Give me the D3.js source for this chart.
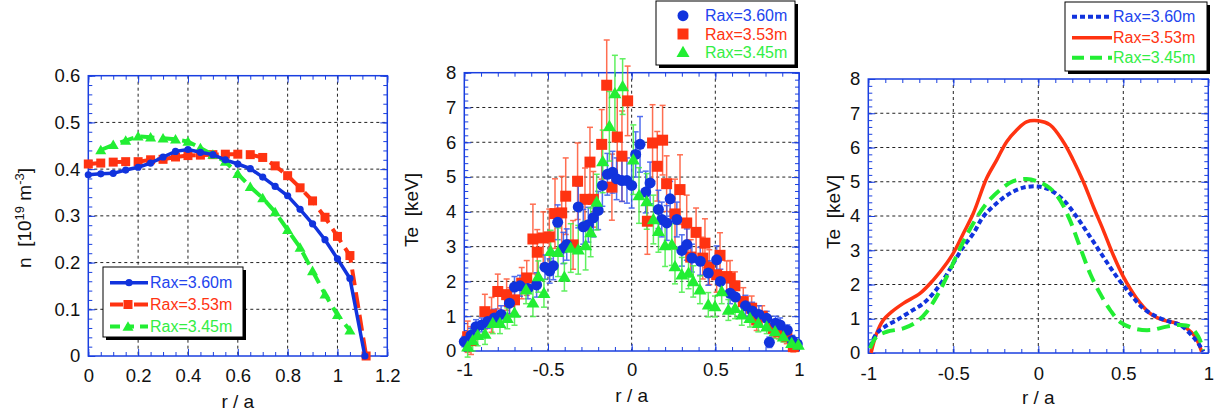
<!DOCTYPE html>
<html><head><meta charset="utf-8">
<script src="https://cdn.jsdelivr.net/npm/d3@7"></script>
<style>
html,body{margin:0;padding:0;background:#fff;}
svg{display:block;font-family:"Liberation Sans",Arial,Helvetica,sans-serif;}
</style></head><body>
<svg id="fig" width="1219" height="417"></svg>
<script>
// ---------- density profiles n(r/a) ----------
const nR360 = [0,0.05,0.10,0.15,0.20,0.25,0.30,0.35,0.40,0.45,0.50,0.55,0.60,0.65,0.70,0.75,0.80,0.85,0.90,0.95,1.00,1.05,1.11];
const nV360 = [0.388,0.390,0.391,0.398,0.404,0.413,0.426,0.438,0.442,0.436,0.431,0.420,0.411,0.401,0.383,0.363,0.343,0.314,0.283,0.249,0.208,0.166,0.0];
const nR353 = [0,0.05,0.10,0.15,0.20,0.25,0.30,0.35,0.40,0.45,0.50,0.55,0.60,0.65,0.70,0.75,0.80,0.85,0.90,0.95,1.00,1.05,1.115];
const nV353 = [0.411,0.413,0.415,0.416,0.416,0.420,0.421,0.426,0.429,0.430,0.431,0.432,0.432,0.431,0.425,0.407,0.386,0.360,0.332,0.297,0.256,0.215,0.0];
const nR345 = [0.05,0.10,0.15,0.20,0.25,0.30,0.35,0.40,0.45,0.50,0.55,0.60,0.65,0.70,0.75,0.80,0.85,0.90,0.95,1.00,1.05];
const nV345 = [0.441,0.452,0.461,0.470,0.468,0.466,0.464,0.459,0.445,0.431,0.416,0.390,0.362,0.338,0.308,0.270,0.232,0.182,0.132,0.088,0.055];

// ---------- measured Te(r/a) with error bars ----------
const tR360 = [-1.0,-0.96,-0.93,-0.896,-0.86,-0.82,-0.78,-0.73,-0.70,-0.667,-0.62,-0.568,-0.518,-0.49,-0.468,-0.442,-0.408,-0.388,-0.319,-0.289,-0.259,-0.229,-0.20,-0.175,-0.145,-0.114,-0.09,-0.058,-0.028,0.0,0.024,0.05,0.084,0.11,0.16,0.18,0.21,0.23,0.27,0.30,0.33,0.36,0.41,0.458,0.508,0.53,0.588,0.62,0.68,0.72,0.76,0.807,0.823,0.86,0.887,0.93,0.96,0.99];
const tV360 = [0.27,0.45,0.70,0.75,0.85,0.95,1.05,1.375,1.84,1.875,1.80,1.90,2.41,2.30,2.45,3.70,2.96,3.06,4.14,3.57,3.63,3.83,4.04,4.76,5.08,5.14,4.95,4.90,4.90,4.76,5.65,5.94,4.57,4.83,4.07,3.78,3.68,4.375,3.78,2.89,3.06,2.67,2.58,2.24,2.62,2.00,1.66,1.55,1.30,1.15,1.05,0.94,0.25,0.80,0.75,0.60,0.30,0.20];
const tE360 = [0.15,0.2,0.2,0.2,0.2,0.25,0.25,0.3,0.3,0.3,0.3,0.35,0.35,0.35,0.4,0.5,0.45,0.45,0.6,0.5,0.5,0.55,0.55,0.6,0.6,0.6,0.6,0.6,0.65,0.65,0.65,0.8,0.6,0.6,0.55,0.5,0.5,0.5,0.5,0.45,0.45,0.4,0.4,0.35,0.4,0.35,0.3,0.3,0.3,0.25,0.25,0.2,0.15,0.2,0.2,0.15,0.15,0.1];

const tR353 = [-0.98,-0.96,-0.877,-0.837,-0.80,-0.747,-0.73,-0.70,-0.657,-0.627,-0.59,-0.564,-0.528,-0.492,-0.458,-0.418,-0.394,-0.35,-0.323,-0.279,-0.249,-0.229,-0.179,-0.149,-0.118,-0.086,-0.058,-0.024,0.094,0.125,0.153,0.185,0.209,0.259,0.289,0.329,0.353,0.385,0.425,0.438,0.464,0.508,0.528,0.568,0.588,0.617,0.667,0.717,0.747,0.78,0.847,0.88,0.927,0.966];
const tV353 = [0.41,0.30,1.13,1.04,1.71,1.62,1.42,1.47,1.95,2.10,3.22,2.84,3.25,3.28,3.95,3.97,4.45,3.05,4.88,4.36,5.43,4.36,5.94,7.64,4.71,6.15,5.60,7.19,3.73,5.98,5.31,6.06,4.81,3.94,4.64,3.68,2.70,3.41,2.67,3.10,2.41,2.19,2.75,2.14,2.10,1.875,1.42,1.23,0.89,1.00,0.65,0.55,0.41,0.125];
const tE353 = [0.45,0.4,0.5,0.5,0.5,0.45,0.4,0.45,0.45,0.5,1.0,0.65,0.75,0.8,1.0,1.05,1.1,0.7,1.1,0.9,1.0,0.8,1.0,1.3,0.95,1.2,1.3,1.0,0.95,1.1,1.0,1.0,0.8,1.0,1.0,0.8,0.5,0.7,0.6,0.7,0.5,0.5,0.65,0.45,0.5,0.4,0.4,0.35,0.3,0.3,0.25,0.2,0.2,0.15];

const tR345 = [-0.98,-0.95,-0.92,-0.876,-0.83,-0.787,-0.743,-0.70,-0.631,-0.59,-0.558,-0.524,-0.484,-0.44,-0.402,-0.364,-0.319,-0.275,-0.245,-0.209,-0.173,-0.133,-0.10,-0.054,0.01,0.044,0.09,0.13,0.16,0.20,0.24,0.259,0.30,0.34,0.368,0.408,0.458,0.498,0.538,0.578,0.618,0.658,0.707,0.757,0.807,0.857,0.906,0.956,0.996];
const tV345 = [0.125,0.30,0.45,0.49,0.80,0.80,0.94,1.09,1.76,1.39,2.14,1.66,2.87,2.84,2.125,2.96,2.91,3.03,3.41,4.28,5.45,6.46,7.40,7.60,5.50,4.47,4.30,3.78,3.44,3.03,3.06,2.43,2.19,2.24,2.00,1.76,1.33,1.28,1.71,1.18,1.23,1.04,0.94,0.80,0.70,0.56,0.41,0.22,0.17];
const tE345 = [0.3,0.3,0.3,0.3,0.3,0.3,0.3,0.35,0.4,0.4,0.45,0.4,0.6,0.7,0.4,0.7,0.7,0.7,0.7,0.8,0.9,1.0,1.1,0.8,1.0,0.8,0.8,0.7,0.6,0.6,0.6,0.5,0.5,0.45,0.45,0.4,0.35,0.3,0.35,0.3,0.3,0.3,0.25,0.25,0.2,0.2,0.15,0.15,0.1];

// ---------- fitted Te(r/a) profiles ----------
const fR360 = [-0.99,-0.951,-0.902,-0.833,-0.755,-0.676,-0.618,-0.559,-0.50,-0.441,-0.382,-0.324,-0.245,-0.167,-0.088,0.0,0.069,0.147,0.225,0.304,0.382,0.461,0.539,0.618,0.696,0.775,0.833,0.892,0.941,0.971];
const fV360 = [0.18,0.57,0.77,0.96,1.20,1.45,1.74,2.13,2.62,3.10,3.49,3.98,4.37,4.66,4.83,4.86,4.76,4.47,3.98,3.40,2.81,2.23,1.74,1.30,1.06,0.91,0.82,0.57,0.28,0.04];
const fR353 = [-0.984,-0.951,-0.912,-0.863,-0.794,-0.696,-0.618,-0.539,-0.49,-0.441,-0.382,-0.304,-0.245,-0.186,-0.127,-0.069,0.0,0.069,0.147,0.206,0.265,0.324,0.382,0.441,0.50,0.578,0.657,0.735,0.814,0.873,0.922,0.961];
const fV353 = [0.0,0.57,0.96,1.20,1.45,1.74,2.13,2.62,3.00,3.49,4.08,5.10,5.63,6.17,6.51,6.75,6.78,6.66,6.17,5.63,5.00,4.27,3.59,2.86,2.23,1.60,1.16,0.96,0.87,0.72,0.48,0.04];
const fR345 = [-0.99,-0.951,-0.892,-0.794,-0.716,-0.657,-0.588,-0.52,-0.451,-0.382,-0.304,-0.225,-0.147,-0.069,0.0,0.069,0.127,0.186,0.245,0.304,0.363,0.422,0.48,0.559,0.657,0.755,0.833,0.892,0.941,0.971];
const fV345 = [0.14,0.48,0.62,0.72,0.91,1.20,1.74,2.42,3.15,3.79,4.37,4.76,5.02,5.08,5.00,4.81,4.47,3.88,3.10,2.33,1.74,1.26,0.91,0.72,0.67,0.77,0.82,0.77,0.48,0.09];

// ---------- axes / legend text ----------
const nTicksX = [0,0.2,0.4,0.6,0.8,1,1.2];
const nTicksY = [0,0.1,0.2,0.3,0.4,0.5,0.6];
const rTicks = [-1,-0.5,0,0.5,1];
const teTicks = [0,1,2,3,4,5,6,7,8];
const seriesNames = ["Rax=3.60m","Rax=3.53m","Rax=3.45m"];

const BLUE = "#1133dd", RED = "#ff3311", GREEN = "#22ee33";
const BLUE_T = "#2244ee", RED_T = "#ff3311", GREEN_T = "#33ee44";
const FRAME = "#1a3fe0";
const TICK_FONT = 18.5, TITLE_FONT = 19;

const svg = d3.select("#fig");

function fmtTick(d){ return String(+d.toFixed(3)); }

function panel(cfg){
  const x = d3.scaleLinear().domain(cfg.xDomain).range([cfg.left, cfg.right]);
  const y = d3.scaleLinear().domain(cfg.yDomain).range([cfg.bottom, cfg.top]);
  const g = svg.append("g");
  const W = cfg.right - cfg.left, H = cfg.bottom - cfg.top;

  // dashed grid
  const gx = cfg.xTicks.filter(v => v > cfg.xDomain[0] && v < cfg.xDomain[1]);
  const gy = cfg.yTicks.filter(v => v > cfg.yDomain[0] && v < cfg.yDomain[1]);
  g.append("g").selectAll("line").data(gx).join("line")
    .attr("x1", d => x(d)).attr("x2", d => x(d))
    .attr("y1", cfg.top).attr("y2", cfg.bottom)
    .attr("stroke", "#222").attr("stroke-width", 1).attr("stroke-dasharray", "3,3");
  g.append("g").selectAll("line").data(gy).join("line")
    .attr("y1", d => y(d)).attr("y2", d => y(d))
    .attr("x1", cfg.left).attr("x2", cfg.right)
    .attr("stroke", "#222").attr("stroke-width", 1).attr("stroke-dasharray", "3,3");

  // inward ticks on all four sides
  function ticks(axisFn, scale, vals, len, tx, ty){
    const a = g.append("g").attr("transform", `translate(${tx},${ty})`)
      .call(axisFn(scale).tickValues(vals).tickSize(-len).tickFormat(""));
    a.select(".domain").remove();
    a.selectAll("line").attr("stroke", FRAME).attr("stroke-width", 1);
  }
  const xMinor = d3.range(0, Math.round((cfg.xDomain[1]-cfg.xDomain[0])/cfg.xMinor)+1).map(i => cfg.xDomain[0] + i*cfg.xMinor);
  const yMinor = d3.range(0, Math.round((cfg.yDomain[1]-cfg.yDomain[0])/cfg.yMinor)+1).map(i => cfg.yDomain[0] + i*cfg.yMinor);
  ticks(d3.axisBottom, x, xMinor, 4, 0, cfg.bottom);
  ticks(d3.axisTop, x, xMinor, 4, 0, cfg.top);
  ticks(d3.axisLeft, y, yMinor, 4, cfg.left, 0);
  ticks(d3.axisRight, y, yMinor, 4, cfg.right, 0);
  ticks(d3.axisBottom, x, cfg.xTicks, 7, 0, cfg.bottom);
  ticks(d3.axisTop, x, cfg.xTicks, 7, 0, cfg.top);
  ticks(d3.axisLeft, y, cfg.yTicks, 7, cfg.left, 0);
  ticks(d3.axisRight, y, cfg.yTicks, 7, cfg.right, 0);

  // frame
  g.append("rect").attr("x", cfg.left).attr("y", cfg.top).attr("width", W).attr("height", H)
    .attr("fill", "none").attr("stroke", FRAME).attr("stroke-width", 1.5);

  // tick labels
  const lx = g.append("g").attr("transform", `translate(0,${cfg.bottom})`)
    .call(d3.axisBottom(x).tickValues(cfg.xTicks).tickSize(0).tickPadding(cfg.xPad).tickFormat(fmtTick));
  lx.select(".domain").remove();
  lx.selectAll("text").attr("font-size", TICK_FONT).attr("font-family", null).attr("fill", "#111");
  const ly = g.append("g").attr("transform", `translate(${cfg.left},0)`)
    .call(d3.axisLeft(y).tickValues(cfg.yTicks).tickSize(0).tickPadding(8).tickFormat(fmtTick));
  ly.select(".domain").remove();
  ly.selectAll("text").attr("font-size", TICK_FONT).attr("font-family", null).attr("fill", "#111");

  // axis titles
  g.append("text").attr("x", (cfg.left+cfg.right)/2).attr("y", cfg.xTitleY)
    .attr("text-anchor", "middle").attr("font-size", TITLE_FONT).attr("fill", "#111").text("r / a");
  const yt = g.append("text").attr("transform", `translate(${cfg.yTitleX},${cfg.yTitleY}) rotate(-90)`)
    .attr("text-anchor", "middle").attr("font-size", TITLE_FONT).attr("fill", "#111")
    .style("white-space", "pre");
  cfg.yTitle(yt);

  return {x, y, g};
}

function legendBox(x0, y0, w, h){
  const lg = svg.append("g");
  lg.append("rect").attr("x", x0+3).attr("y", y0+3).attr("width", w).attr("height", h).attr("fill", "#000");
  lg.append("rect").attr("x", x0).attr("y", y0).attr("width", w).attr("height", h)
    .attr("fill", "#fff").attr("stroke", "#000").attr("stroke-width", 1);
  return lg;
}

// ================= panel 1 : density =================
const p1 = panel({
  left: 88.3, right: 387.3, top: 75.7, bottom: 356,
  xDomain: [0, 1.2], yDomain: [0, 0.6], xTicks: nTicksX, yTicks: nTicksY,
  xMinor: 0.05, yMinor: 0.02, xPad: 13, xTitleY: 408,
  yTitleX: 31, yTitleY: 218,
  yTitle: t => {
    t.append("tspan").text("n\u00a0 [10");
    t.append("tspan").attr("dy", -7).attr("font-size", 13).text("19");
    t.append("tspan").attr("dy", 7).text(" m");
    t.append("tspan").attr("dy", -7).attr("font-size", 13).text("-3");
    t.append("tspan").attr("dy", 7).text("]");
  }
});

const sqr = s => d3.symbol(d3.symbolSquare, s*s)();
const tri = s => d3.symbol(d3.symbolTriangle, s*s*Math.sqrt(3)/4)();

function nSeries(R, V, color, dash, width){
  const pts = R.map((r,i) => [p1.x(r), p1.y(V[i])]);
  p1.g.append("path").attr("d", d3.line()(pts)).attr("fill", "none")
    .attr("stroke", color).attr("stroke-width", width).attr("stroke-dasharray", dash);
  return pts;
}
const pRed = nSeries(nR353, nV353, RED, "16,7", 4);
p1.g.append("g").selectAll("path").data(pRed).join("path")
  .attr("d", sqr(9)).attr("transform", d => `translate(${d[0]},${d[1]})`).attr("fill", RED);
const pGreen = nSeries(nR345, nV345, GREEN, "14,7", 4);
p1.g.append("g").selectAll("path").data(pGreen).join("path")
  .attr("d", tri(11)).attr("transform", d => `translate(${d[0]},${d[1]+1})`).attr("fill", GREEN);
const pBlue = nSeries(nR360, nV360, BLUE, null, 3.5);
p1.g.append("g").selectAll("circle").data(pBlue).join("circle")
  .attr("cx", d => d[0]).attr("cy", d => d[1]).attr("r", 3.6).attr("fill", BLUE);

// legend 1
{
  const lg = legendBox(103, 267, 140, 70);
  const rows = [282.7, 304.5, 326.5];
  const cols = [BLUE_T, RED_T, GREEN_T];
  lg.append("line").attr("x1", 110).attr("x2", 148).attr("y1", rows[0]).attr("y2", rows[0]).attr("stroke", BLUE).attr("stroke-width", 3.5);
  lg.append("circle").attr("cx", 129).attr("cy", rows[0]).attr("r", 3.6).attr("fill", BLUE);
  lg.append("line").attr("x1", 110).attr("x2", 148).attr("y1", rows[1]).attr("y2", rows[1]).attr("stroke", RED).attr("stroke-width", 4).attr("stroke-dasharray", "13,11,14");
  lg.append("path").attr("d", sqr(9)).attr("transform", `translate(128,${rows[1]})`).attr("fill", RED);
  lg.append("line").attr("x1", 110).attr("x2", 148).attr("y1", rows[2]).attr("y2", rows[2]).attr("stroke", GREEN).attr("stroke-width", 4).attr("stroke-dasharray", "10,6,8,6");
  lg.append("path").attr("d", tri(11)).attr("transform", `translate(128,${rows[2]+1})`).attr("fill", GREEN);
  seriesNames.forEach((s,i) => lg.append("text").attr("x", 150).attr("y", rows[i]+5.5)
    .attr("font-size", 16).attr("fill", cols[i]).text(s));
}

// ================= panel 2 : measured Te =================
const p2 = panel({
  left: 464.3, right: 799, top: 72.7, bottom: 351,
  xDomain: [-1, 1], yDomain: [0, 8], xTicks: rTicks, yTicks: teTicks,
  xMinor: 0.1, yMinor: 0.2, xPad: 12, xTitleY: 402,
  yTitleX: 418, yTitleY: 210,
  yTitle: t => t.text("Te\u00a0 [keV]")
});

function errBars(R, V, E, color){
  const gg = p2.g.append("g").attr("stroke", color).attr("stroke-width", 1.5).attr("opacity", 0.85);
  R.forEach((r,i) => {
    const cx = p2.x(r), y1 = p2.y(V[i]-E[i]), y2 = p2.y(V[i]+E[i]);
    gg.append("line").attr("x1", cx).attr("x2", cx).attr("y1", y1).attr("y2", y2);
    gg.append("line").attr("x1", cx-3).attr("x2", cx+3).attr("y1", y1).attr("y2", y1);
    gg.append("line").attr("x1", cx-3).attr("x2", cx+3).attr("y1", y2).attr("y2", y2);
  });
}
errBars(tR353, tV353, tE353, "#ff5533");
errBars(tR360, tV360, tE360, "#3355ee");
errBars(tR345, tV345, tE345, "#44ee44");

p2.g.append("g").selectAll("path").data(tR353.map((r,i)=>[p2.x(r), p2.y(tV353[i])])).join("path")
  .attr("d", sqr(11)).attr("transform", d => `translate(${d[0]},${d[1]})`).attr("fill", RED);
p2.g.append("g").selectAll("circle").data(tR360.map((r,i)=>[p2.x(r), p2.y(tV360[i])])).join("circle")
  .attr("cx", d => d[0]).attr("cy", d => d[1]).attr("r", 5.5).attr("fill", BLUE);
p2.g.append("g").selectAll("path").data(tR345.map((r,i)=>[p2.x(r), p2.y(tV345[i])])).join("path")
  .attr("d", tri(13)).attr("transform", d => `translate(${d[0]},${d[1]+1})`).attr("fill", GREEN);

// legend 2
{
  const lg = legendBox(656, 1, 139, 64);
  const rows = [15.7, 34, 52.3];
  const cols = [BLUE_T, RED_T, GREEN_T];
  lg.append("circle").attr("cx", 683).attr("cy", rows[0]).attr("r", 5.5).attr("fill", BLUE);
  lg.append("path").attr("d", sqr(11)).attr("transform", `translate(683,${rows[1]})`).attr("fill", RED);
  lg.append("path").attr("d", tri(13)).attr("transform", `translate(683,${rows[2]+1})`).attr("fill", GREEN);
  seriesNames.forEach((s,i) => lg.append("text").attr("x", 705).attr("y", rows[i]+5.5)
    .attr("font-size", 16).attr("fill", cols[i]).text(s));
}

// ================= panel 3 : fitted Te =================
const p3 = panel({
  left: 868.3, right: 1208.3, top: 79, bottom: 353,
  xDomain: [-1, 1], yDomain: [0, 8], xTicks: rTicks, yTicks: teTicks,
  xMinor: 0.1, yMinor: 0.2, xPad: 14, xTitleY: 404,
  yTitleX: 840, yTitleY: 212,
  yTitle: t => t.text("Te\u00a0 [keV]")
});
const curve = d3.line().curve(d3.curveCatmullRom.alpha(0.5));
function fitLine(R, V, color, dash, width){
  p3.g.append("path").attr("d", curve(R.map((r,i)=>[p3.x(r), p3.y(V[i])])))
    .attr("fill", "none").attr("stroke", color).attr("stroke-width", width)
    .attr("stroke-dasharray", dash);
}
fitLine(fR353, fV353, RED, null, 3.5);
fitLine(fR360, fV360, BLUE, "5,3", 4);
fitLine(fR345, fV345, GREEN, "13,7", 4);

// legend 3
{
  const lg = legendBox(1065, 2, 142, 69);
  const rows = [16.7, 37.7, 57.7];
  const cols = [BLUE_T, RED_T, GREEN_T];
  lg.append("line").attr("x1", 1072).attr("x2", 1112).attr("y1", rows[0]).attr("y2", rows[0]).attr("stroke", BLUE).attr("stroke-width", 4).attr("stroke-dasharray", "5,3");
  lg.append("line").attr("x1", 1072).attr("x2", 1112).attr("y1", rows[1]).attr("y2", rows[1]).attr("stroke", RED).attr("stroke-width", 3.5);
  lg.append("line").attr("x1", 1072).attr("x2", 1112).attr("y1", rows[2]).attr("y2", rows[2]).attr("stroke", GREEN).attr("stroke-width", 4).attr("stroke-dasharray", "12,6");
  seriesNames.forEach((s,i) => lg.append("text").attr("x", 1113).attr("y", rows[i]+5.5)
    .attr("font-size", 16).attr("fill", cols[i]).text(s));
}
</script>
</body></html>
